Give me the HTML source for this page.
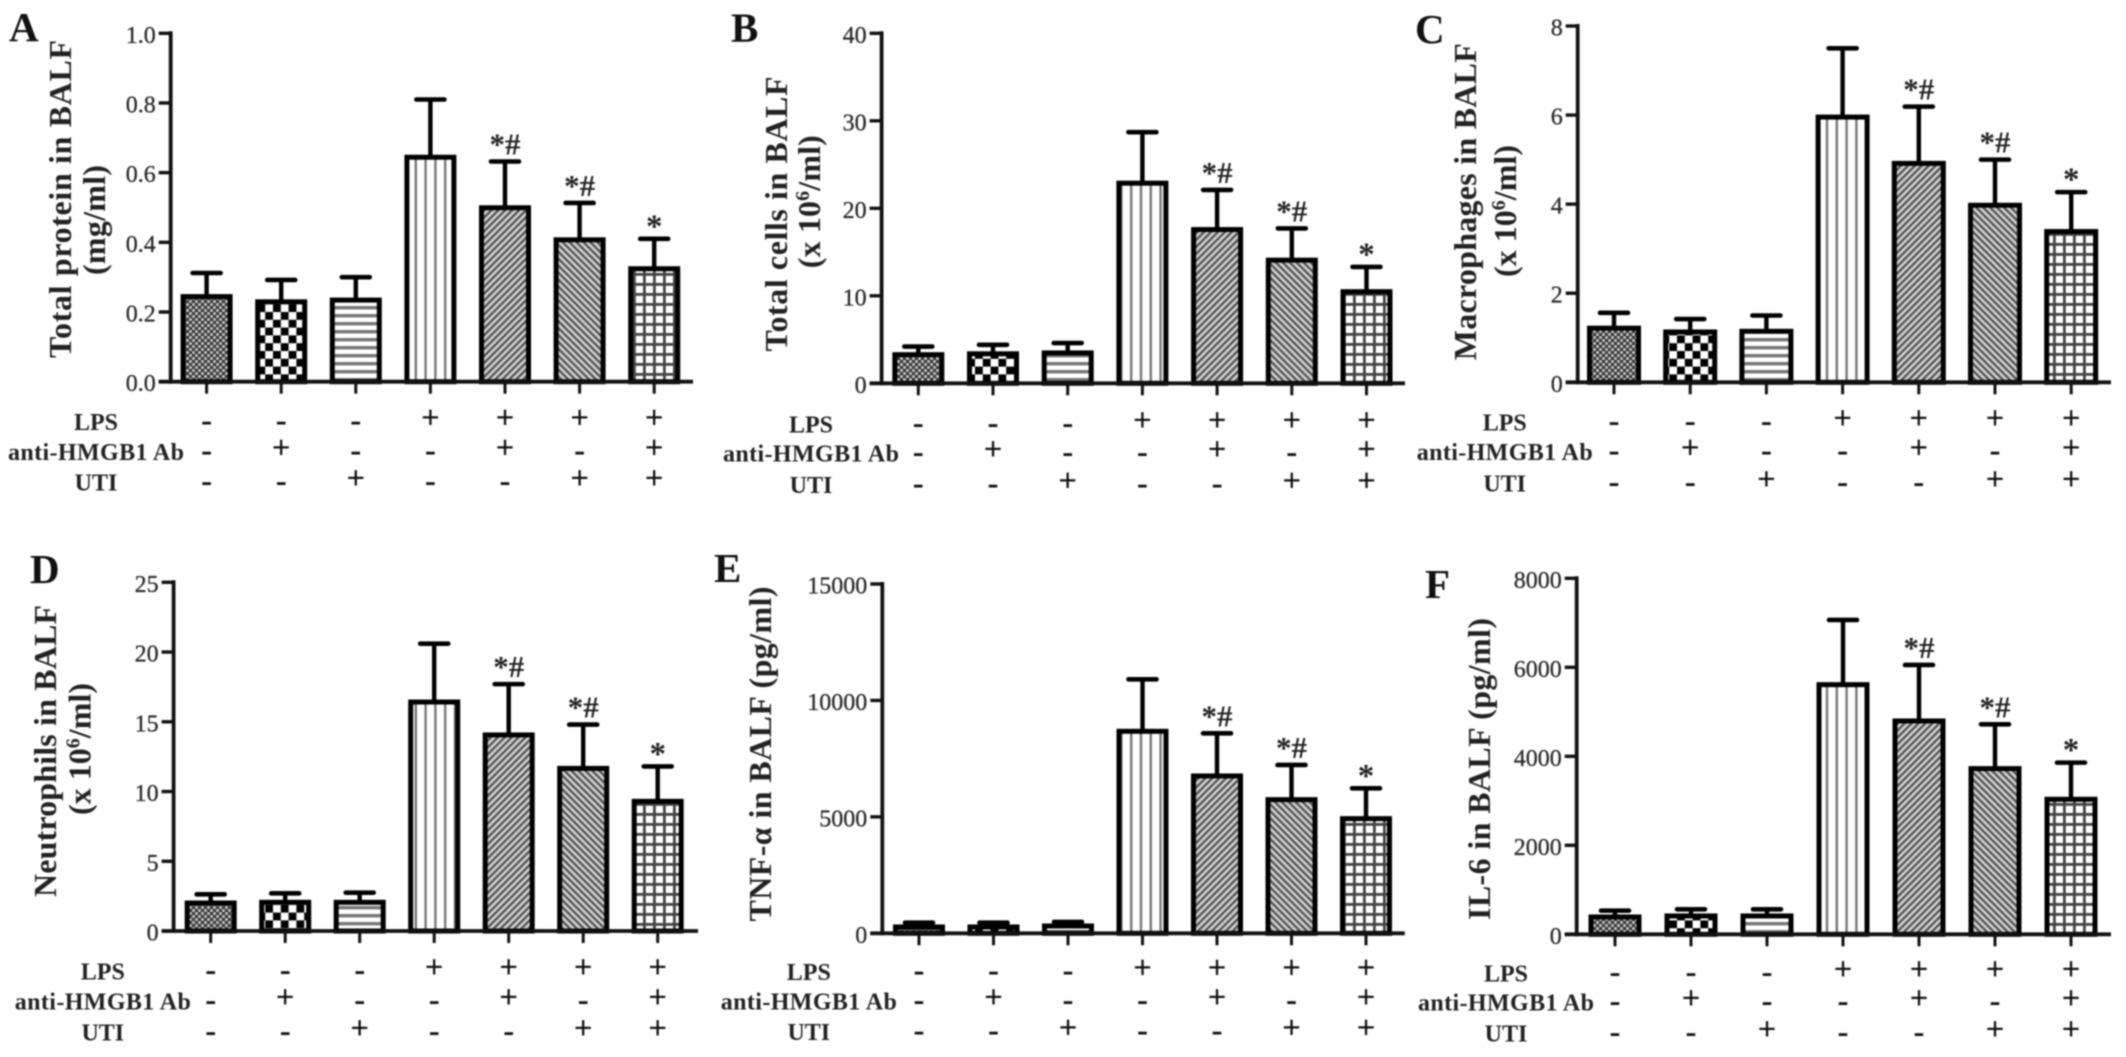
<!DOCTYPE html>
<html lang="en">
<head>
<meta charset="utf-8">
<title>BALF bar charts</title>
<style>
html,body{margin:0;padding:0;background:#fff;}
#figure{display:block;width:2126px;height:1057px;filter:blur(0.7px);font-family:"Liberation Serif",serif;}
</style>
</head>
<body>
<svg id="figure" xmlns="http://www.w3.org/2000/svg" width="2126" height="1057" viewBox="0 0 2126 1057">
<defs>
<pattern id="p-fine" patternUnits="userSpaceOnUse" width="6" height="6">
<rect width="6" height="6" fill="#8a8a8a"/><rect width="3" height="3" fill="#3a3a3a"/><rect x="3" y="3" width="3" height="3" fill="#3a3a3a"/><circle cx="4.5" cy="1.5" r="1.1" fill="#ddd"/><circle cx="1.5" cy="4.5" r="1.1" fill="#ddd"/>
</pattern>
<pattern id="p-check" patternUnits="userSpaceOnUse" width="15.6" height="15.6">
<rect width="15.6" height="15.6" fill="#fff"/><rect width="7.8" height="7.8" fill="#000"/><rect x="7.8" y="7.8" width="7.8" height="7.8" fill="#000"/>
</pattern>
<pattern id="p-horizontal" patternUnits="userSpaceOnUse" width="8" height="8">
<rect width="8" height="8" fill="#fff"/><rect y="2" width="8" height="3.4" fill="#777"/>
</pattern>
<pattern id="p-vertical" patternUnits="userSpaceOnUse" width="9.8" height="10">
<rect width="9.8" height="10" fill="#fff"/><rect x="3" width="2.4" height="10" fill="#777"/>
</pattern>
<pattern id="p-diag-up" patternUnits="userSpaceOnUse" width="4.9" height="4.9" patternTransform="rotate(45)">
<rect width="4.9" height="4.9" fill="#d4d4d4"/><rect width="2.4" height="4.9" fill="#555"/>
</pattern>
<pattern id="p-diag-down" patternUnits="userSpaceOnUse" width="4.9" height="4.9" patternTransform="rotate(-45)">
<rect width="4.9" height="4.9" fill="#d4d4d4"/><rect width="2.4" height="4.9" fill="#555"/>
</pattern>
<pattern id="p-grid" patternUnits="userSpaceOnUse" width="10" height="10">
<rect width="10" height="10" fill="#fff"/><rect x="3" width="2.8" height="10" fill="#444"/><rect y="3" width="10" height="2.8" fill="#444"/>
</pattern>
</defs>
<g id="root"></g>
</svg>
<script>
// Group conditions (one column per bar)
const lpsSigns = ["-","-","-","+","+","+","+"];
const antibodySigns = ["-","+","-","-","+","-","+"];
const utiSigns = ["-","-","+","-","-","+","+"];
const significance = ["","","","","*#","*#","*"];
const rowLabels = ["LPS","anti-HMGB1 Ab","UTI"];

// Panel A
const panelATicks = ["0.0","0.2","0.4","0.6","0.8","1.0"];
const panelAValues = [0.25,0.235,0.24,0.65,0.505,0.413,0.33];
const panelAUpper = [0.312,0.292,0.30,0.81,0.632,0.513,0.41];
// Panel B
const panelBTicks = ["0","10","20","30","40"];
const panelBValues = [3.5,3.6,3.7,23.1,17.8,14.3,10.7];
const panelBUpper = [4.2,4.4,4.6,28.7,22.1,17.7,13.3];
// Panel C
const panelCTicks = ["0","2","4","6","8"];
const panelCValues = [1.26,1.175,1.19,6.0,4.96,4.02,3.43];
const panelCUpper = [1.56,1.42,1.5,7.5,6.19,5.0,4.27];
// Panel D
const panelDTicks = ["0","5","10","15","20","25"];
const panelDValues = [2.15,2.2,2.2,16.56,14.2,11.8,9.44];
const panelDUpper = [2.63,2.7,2.75,20.6,17.7,14.8,11.8];
// Panel E
const panelETicks = ["0","5000","10000","15000"];
const panelEValues = [358,358,400,8760,6842,5825,5010];
const panelEUpper = [458,458,487,10907,8588,7228,6226];
// Panel F
const panelFTicks = ["0","2000","4000","6000","8000"];
const panelFValues = [434,457,457,5655,4839,3768,3079];
const panelFUpper = [532,562,562,7064,6052,4719,3858];

const barFills = ["p-fine","p-check","p-horizontal","p-vertical","p-diag-up","p-diag-down","p-grid"];

const panels = [
 {id:"a",letter:"A",lx:9,ly:41,ax:170.7,top:33.3,bottom:381.7,x0:206.6,dx:74.6,right:693,barW:47,ticks:panelATicks,values:panelAValues,upper:panelAUpper,rowY:[420,450,480.7],labelX:96,
  titles:[{text:"Total protein in BALF",cx:60,cy:199,len:318},{text:"(mg/ml)",cx:94,cy:220,len:110}]},
 {id:"b",letter:"B",lx:731,ly:41.5,ax:881.6,top:33.3,bottom:383.3,x0:918.3,dx:74.7,right:1405,barW:47,ticks:panelBTicks,values:panelBValues,upper:panelBUpper,rowY:[422.7,451.7,483],labelX:811,
  titles:[{text:"Total cells in BALF",cx:776,cy:214,len:275},{text:"(x 10^6/ml)",cx:809,cy:201.7,len:133}]},
 {id:"c",letter:"C",lx:1415,ly:43,ax:1577.7,top:26,bottom:382.3,x0:1614,dx:76.2,right:2111,barW:49,ticks:panelCTicks,values:panelCValues,upper:panelCUpper,rowY:[420.7,450,481.7],labelX:1504.7,
  titles:[{text:"Macrophages in BALF",cx:1465,cy:201.7,len:317},{text:"(x 10^6/ml)",cx:1505,cy:211,len:132}]},
 {id:"d",letter:"D",lx:30,ly:583,ax:173.6,top:582.3,bottom:931,x0:210.7,dx:74.5,right:698,barW:47,ticks:panelDTicks,values:panelDValues,upper:panelDUpper,rowY:[969.3,999.3,1030.7],labelX:102.8,
  titles:[{text:"Neutrophils in BALF",cx:45,cy:751,len:292},{text:"(x 10^6/ml)",cx:79.7,cy:749,len:132}]},
 {id:"e",letter:"E",lx:714,ly:582,ax:882.3,top:584,bottom:933.3,x0:919,dx:74.5,right:1404.8,barW:47,ticks:panelETicks,values:panelEValues,upper:panelEUpper,rowY:[970,999.3,1030],labelX:808.8,
  titles:[{text:"TNF-α in BALF (pg/ml)",cx:760,cy:754,len:335}]},
 {id:"f",letter:"F",lx:1425,ly:598,ax:1576.7,top:578.3,bottom:934.3,x0:1615,dx:76,right:2111,barW:48,ticks:panelFTicks,values:panelFValues,upper:panelFUpper,rowY:[971.7,1000.7,1031.7],labelX:1506,
  titles:[{text:"IL-6 in BALF (pg/ml)",cx:1478.8,cy:769,len:302}]}
];

const SVGNS = "http://www.w3.org/2000/svg";
function svgEl(tag, attrs, parent) {
  const el = document.createElementNS(SVGNS, tag);
  for (const k in attrs) el.setAttribute(k, attrs[k]);
  parent.appendChild(el);
  return el;
}
function yScale(p, v) {
  const max = parseFloat(p.ticks[p.ticks.length - 1]);
  return p.bottom - (v / max) * (p.bottom - p.top);
}
function xScale(p, i) {
  return p.x0 + i * p.dx;
}

const root = document.getElementById("root");
panels.forEach(function (p) {
  const g = svgEl("g", {}, root);
  
  

  const letter = svgEl("text", {x:p.lx, y:p.ly, "font-size":41, "font-weight":"bold", fill:"#111"}, g);
  letter.textContent = p.letter;
  
  

  // y-axis titles
  p.titles.forEach(function (t) {
    const bx = t.cx + 11;
    const title = svgEl("text", {x:0, y:0, transform:"translate(" + bx + "," + t.cy + ") rotate(-90)", "text-anchor":"middle", "font-size":32, "font-weight":"bold", fill:"#222", textLength:t.len, lengthAdjust:"spacing"}, g);
    
    
    if (t.text.indexOf("^") >= 0) {
      const parts = t.text.split("^6");
      title.appendChild(document.createTextNode(parts[0]));
      const sup = svgEl("tspan", {dy:-11, "font-size":20}, title);
      sup.textContent = "6";
      const rest = svgEl("tspan", {dy:11}, title);
      rest.textContent = parts[1];
    } else {
      title.textContent = t.text;
    }
  });

  // error bars
  p.values.forEach(function (v, i) {
    const x = xScale(p, i);
    const stem = svgEl("line", {x1:x, x2:x, y1:yScale(p, v), y2:yScale(p, p.upper[i]), stroke:"#000", "stroke-width":4.4}, g);
    
    
    const cap = svgEl("line", {x1:x - 14, x2:x + 14, y1:yScale(p, p.upper[i]), y2:yScale(p, p.upper[i]), stroke:"#000", "stroke-width":4.6, "stroke-linecap":"round"}, g);
    
    
  });

  // bars (outer edge of the outline sits on the value)
  p.values.forEach(function (v, i) {
    const x = xScale(p, i);
    const top = yScale(p, v) + 2;
    const bar = svgEl("rect", {x:x - p.barW / 2, y:top, width:p.barW, height:yScale(p, 0) - top, fill:"url(#" + barFills[i] + ")", stroke:"#000", "stroke-width":5}, g);
    
    
  });

  // significance marks
  significance.forEach(function (s, i) {
    if (!s) return;
    const off = s.length > 1 ? 7 : 2;
    const mark = svgEl("text", {x:xScale(p, i), y:yScale(p, p.upper[i]) - off, "text-anchor":"middle", "font-size":s.length > 1 ? 31 : 33, "font-weight":"bold", fill:"#222"}, g);
    mark.textContent = s;
    
    
  });

  // y axis
  const yAxis = svgEl("line", {x1:p.ax, x2:p.ax, y1:p.top - 2, y2:p.bottom + 2, stroke:"#111", "stroke-width":3.8}, g);
  
  
  p.ticks.forEach(function (t) {
    const y = yScale(p, parseFloat(t));
    const mark = svgEl("line", {x1:p.ax - 12, x2:p.ax, y1:y, y2:y, stroke:"#111", "stroke-width":3.4}, g);
    
    
    const lab = svgEl("text", {x:p.ax - 15, y:y + 9.5, "text-anchor":"end", "font-size":24, fill:"#2a2a2a", stroke:"#2a2a2a", "stroke-width":0.3}, g);
    lab.textContent = t;
    
    
  });

  // x axis
  const xAxis = svgEl("line", {x1:p.ax - 12, x2:p.right, y1:p.bottom, y2:p.bottom, stroke:"#111", "stroke-width":3.8}, g);
  
  
  p.values.forEach(function (v, i) {
    const x = xScale(p, i);
    const tick = svgEl("line", {x1:x, x2:x, y1:p.bottom, y2:p.bottom + 12, stroke:"#111", "stroke-width":3}, g);
    
    
  });

  // condition table
  [lpsSigns, antibodySigns, utiSigns].forEach(function (signs, r) {
    const rowY = p.rowY[r];
    const attrs = {x:p.labelX, y:rowY + 10, "text-anchor":"middle", "font-size":24, "font-weight":"bold", fill:"#222"};
    if (r === 1) attrs.textLength = 176;
    const label = svgEl("text", attrs, g);
    label.textContent = rowLabels[r];
    
    
    signs.forEach(function (s, i) {
      const sign = svgEl("text", {x:xScale(p, i), y:rowY + (s === "+" ? 8.5 : 11), "text-anchor":"middle", "font-size":33, "font-weight":"bold", fill:"#111"}, g);
      sign.textContent = s;
      
      
    });
  });
});
</script>
</body>
</html>
